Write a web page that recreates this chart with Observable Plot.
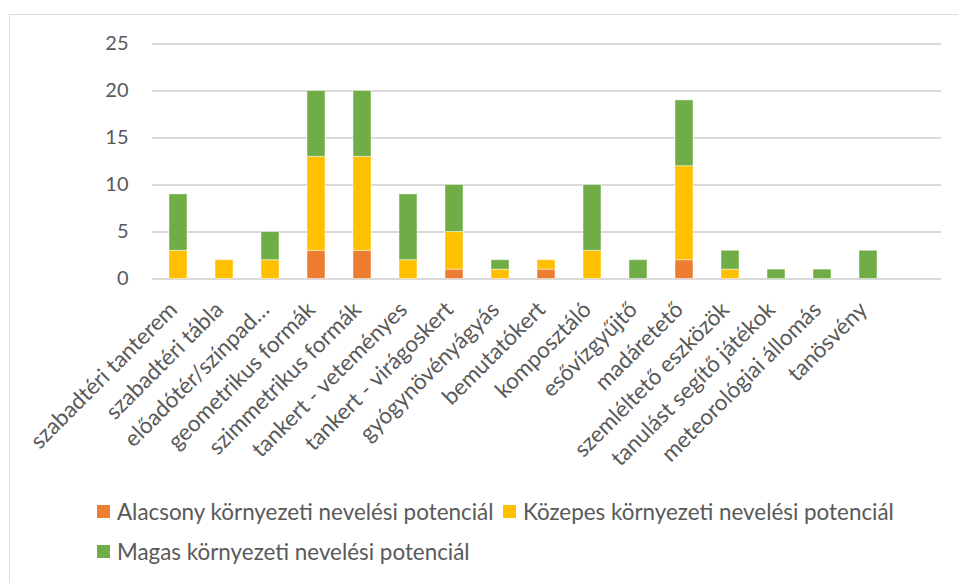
<!DOCTYPE html>
<html>
<head>
<meta charset="utf-8">
<script src="https://cdn.jsdelivr.net/npm/d3@7"></script>
<script src="https://cdn.jsdelivr.net/npm/@observablehq/plot@0.6"></script>
<style>
  html, body { margin: 0; padding: 0; background: #fff; }
  #wrap { position: relative; width: 958px; height: 583px; overflow: hidden; font-family: Lato, sans-serif; }
  #frame { position: absolute; left: 9px; top: 14px; width: 1200px; height: 900px; border: 1.5px solid #d9d9d9; pointer-events: none; }
  #chart svg { display: block; }
  #legend { position: relative; color: #595959; font-size: 22.4px; font-family: Lato, sans-serif; }
  .item { position: absolute; display: flex; align-items: center; white-space: nowrap; }
  .sw { width: 13px; height: 13px; margin-right: 7px; }
</style>
</head>
<body>
<div id="wrap">
  <div id="frame"></div>
  <div id="chart"></div>
  <div id="legend"></div>
</div>
<script>
const categories = [
  "szabadtéri tanterem", "szabadtéri tábla", "előadótér/színpad…", "geometrikus formák",
  "szimmetrikus formák", "tankert - veteményes", "tankert - virágoskert", "gyógynövényágyás",
  "bemutatókert", "komposztáló", "esővízgyűjtő", "madáretető", "szemléltető eszközök",
  "tanulást segítő játékok", "meteorológiai állomás", "tanösvény", " "
];
const seriesNames = [
  "Alacsony környezeti nevelési potenciál",
  "Közepes környezeti nevelési potenciál",
  "Magas környezeti nevelési potenciál"
];
const lowValues  = [0, 0, 0, 3, 3, 0, 1, 0, 1, 0, 0, 2, 0, 0, 0, 0, 0];
const midValues  = [3, 2, 2, 10, 10, 2, 4, 1, 1, 3, 0, 10, 1, 0, 0, 0, 0];
const highValues = [6, 0, 3, 7, 7, 7, 5, 1, 0, 7, 2, 7, 2, 1, 1, 3, 0];
const colors = ["#ED7D31", "#FFC000", "#70AD47"];
const yTicks = [0, 5, 10, 15, 20, 25];

const allValues = [lowValues, midValues, highValues];
const rows = [];
seriesNames.forEach((s, si) => {
  categories.forEach((c, ci) => {
    rows.push({category: c, series: s, value: allValues[si][ci]});
  });
});

const W = 958, H = 490;
const chart = Plot.plot({
  width: W,
  height: H,
  marginLeft: 152,
  marginRight: 17,
  marginTop: 43.5,
  marginBottom: H - 278.5,
  style: {fontFamily: "Lato, sans-serif", fontSize: "20px", color: "#595959", background: "white"},
  x: {domain: categories, paddingInner: 0.6, paddingOuter: 0.3, label: null},
  y: {domain: [0, 25], label: null},
  color: {domain: seriesNames, range: colors},
  marks: [
    Plot.ruleY(yTicks, {stroke: "#d9d9d9", strokeWidth: 2}),
    Plot.barY(rows, Plot.stackY({
      x: "category", y: "value", fill: "series",
      order: seriesNames,
      stroke: "white", strokeOpacity: 0.45, strokeWidth: 1,
      filter: d => d.value > 0
    })),
    Plot.axisY(yTicks, {tickSize: 0, tickPadding: 24, fill: "#595959", fontSize: 20, label: null}),
    Plot.axisX({tickSize: 0, tickPadding: 27, dx: -5, tickRotate: -45, fill: "#595959", fontSize: 22.5, label: null})
  ]
});
document.getElementById("chart").appendChild(chart);

const legendPos = [
  {left: 97, top: 22},
  {left: 503, top: 22},
  {left: 97, top: 62}
];
const legend = document.getElementById("legend");
seriesNames.forEach((s, i) => {
  const it = document.createElement("div");
  it.className = "item";
  it.style.left = legendPos[i].left + "px";
  it.style.top = (legendPos[i].top - 14) + "px";
  const sw = document.createElement("span");
  sw.className = "sw";
  sw.style.background = colors[i];
  const t = document.createElement("span");
  t.textContent = s;
  it.appendChild(sw);
  it.appendChild(t);
  legend.appendChild(it);
});
</script>
</body>
</html>
